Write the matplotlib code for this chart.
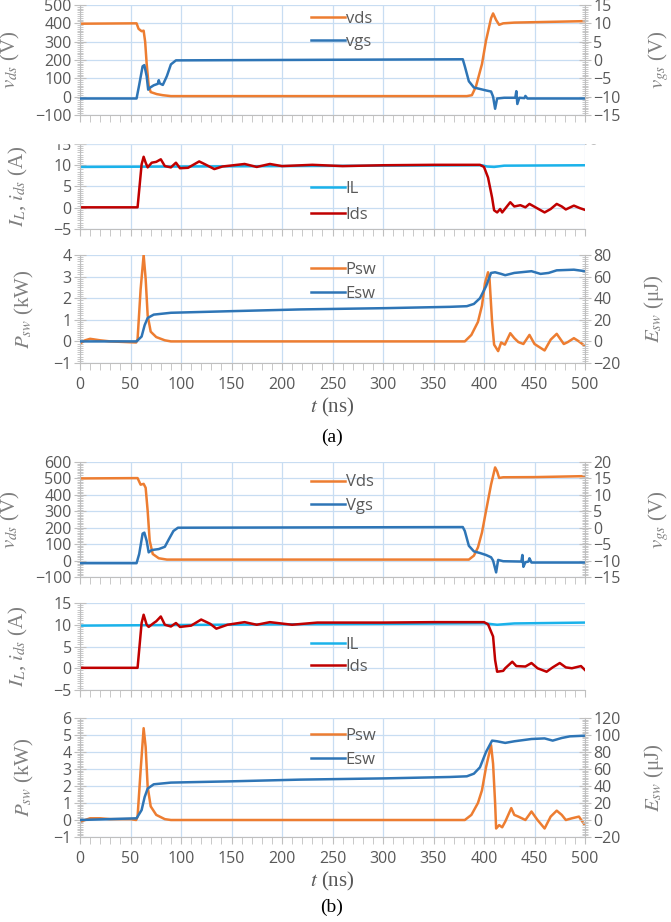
import matplotlib
matplotlib.use('Agg')

import numpy as np
import matplotlib.pyplot as plt
from matplotlib.ticker import MultipleLocator, AutoMinorLocator
from matplotlib.patches import Rectangle

# ---- data (t in ns) ----
# (a)
a_vds_t = [0, 56, 58, 61, 63, 64.5, 66, 68, 70, 76, 82, 90, 383, 388, 392, 398, 402, 407, 409, 412, 415, 419, 430, 500]
a_vds = [398, 400, 370, 357, 360, 300, 180, 60, 25, 14, 8, 3, 3, 8, 55, 178, 306, 428, 454, 418, 392, 400, 404, 412]
a_vgs_t = [0, 56, 58.6, 62, 63.7, 66, 67.5, 69, 73, 77, 78, 79, 82, 86, 90, 95, 379, 381, 385, 390, 396, 402,
           407, 409, 411, 413, 420, 431, 432, 433, 435, 440, 441, 443, 500]
a_vgs = [-10.5, -10.5, -6.8, -1.7, -1.4, -4.4, -8.1, -7.6, -6.9, -6.5, -5.5, -6.4, -6.8, -4.4, -1.2, -0.1, 0.2, -1.7,
         -5.8, -7.5, -7.9, -8.3, -8.6, -10, -13.3, -10.5, -10.3, -10.3, -8.5, -12, -10.3, -10.4, -9.8, -10.5, -10.5]
a_il_t = [0, 100, 200, 300, 398, 403, 410, 420, 500]
a_il = [9.6, 9.7, 9.8, 9.9, 10.0, 9.7, 9.6, 9.9, 10.0]
a_ids_t = [0, 57, 61, 63, 65, 67, 71, 75.5, 80, 84, 90, 95, 99, 107, 118, 124, 133, 141, 163, 175, 188, 200, 230,
           260, 300, 350, 396, 400, 404, 408, 410, 413, 416, 418, 426, 430, 436, 441, 445, 451, 460, 466, 472, 477,
           481, 489, 495, 500]
a_ids = [0.1, 0.1, 10.2, 12.0, 10.6, 9.5, 10.6, 10.8, 11.4, 9.8, 9.5, 10.6, 9.3, 9.4, 10.9, 10.2, 9.1, 9.7, 10.3,
         9.6, 10.3, 9.8, 10.1, 9.8, 10.0, 10.1, 10.1, 9.6, 7.1, 2.4, -0.6, -1.1, -0.3, -1.1, 1.3, 0.3, 0.6, 0.1, 0.9,
         0.1, -1.1, -0.3, 0.9, 0.3, -0.4, 0.5, -0.1, -0.5]
a_psw_t = [0, 5, 10, 20, 30, 55.6, 57, 60, 63, 65, 67, 70, 75.5, 84, 90, 381, 387.5, 394, 398, 401, 404, 405.5, 408,
           410, 412, 414, 417, 420.6, 426, 430, 434, 439, 445, 450, 456, 460, 466, 472, 479, 483, 489, 494, 499]
a_psw = [-0.1, 0.05, 0.12, 0.05, 0.0, -0.05, 0.1, 2.4, 4.0, 2.9, 1.2, 0.45, 0.2, 0.05, 0.0, 0.0, 0.3, 0.9, 1.66, 2.7,
         3.2, 2.87, 0.9, -0.15, -0.3, -0.45, -0.05, -0.15, 0.38, 0.15, -0.03, -0.12, 0.3, -0.12, -0.3, -0.42, 0.08,
         0.35, -0.12, -0.03, 0.15, 0.0, -0.18]
a_esw_t = [0, 56, 61, 64, 67, 73, 90, 150, 218, 303, 366, 383, 390, 396, 402, 407, 411, 417, 421, 430, 447, 456, 464,
           472, 489, 500]
a_esw = [0, 0, 4.5, 15, 21.7, 24.8, 26.5, 28, 29.6, 30.8, 32, 32.6, 34.7, 40, 51, 63.4, 64, 62.5, 61.3, 63.4, 65,
         62.5, 63.4, 65.8, 66.4, 65]

# (b)
b_vds_t = [0, 57, 60, 63, 65, 67, 69, 72, 78, 86, 385, 390, 394, 398, 402, 407, 411, 413, 415, 419, 450, 500]
b_vds = [500, 502, 462, 467, 443, 302, 121, 40, 14, 6, 6, 30, 80, 171, 302, 463, 567, 543, 503, 507, 508, 514]
b_vgs_t = [0, 56, 58.6, 62, 63.7, 66, 68, 71, 78, 84, 88, 92.5, 97, 379, 381, 385, 390, 396, 402, 407, 409, 412, 414,
           419, 437, 438, 439, 441, 444, 445, 447, 500]
b_vgs = [-10.8, -10.8, -8, -1.8, -1.5, -4, -7.5, -6.8, -6.5, -5.8, -3.5, -1, 0, 0.2, -1, -5.5, -7.2, -7.7, -8.3, -9,
         -10, -13.6, -9.8, -10.2, -10.3, -8.3, -11.9, -10.5, -10.3, -9.3, -10.6, -10.6]
b_il_t = [0, 100, 200, 300, 400, 405, 413, 430, 500]
b_il = [9.8, 9.95, 10.1, 10.2, 10.35, 10.2, 10.0, 10.3, 10.5]
b_ids_t = [0, 57, 61, 63, 66, 68, 73, 75.5, 80, 84, 90, 95, 99, 110, 120, 129, 135, 146, 163, 175, 188, 210, 235, 300,
           350, 400, 404, 409, 411, 413, 419, 421, 428, 432, 441, 447, 453, 462, 468, 475, 481, 487, 496, 500]
b_ids = [0.1, 0.1, 10.4, 12.3, 10.0, 9.5, 10.4, 10.8, 11.9, 10.0, 9.6, 10.4, 9.5, 9.8, 11.2, 10.2, 9.1, 10.0, 10.6,
         10.0, 10.6, 10.0, 10.5, 10.5, 10.6, 10.6, 10.1, 7.3, 1.9, -0.8, -0.6, 0.0, 1.5, 0.5, 0.4, 1.2, 0.0, -0.8,
         0.2, 1.2, 0.2, 0.0, 0.5, -0.4]
b_psw_t = [0, 10, 20, 30, 50, 55.6, 57, 60, 63, 65, 67, 70, 75.5, 84, 90, 381, 387.5, 394, 398, 402, 407, 409, 411,
           412, 415, 418, 421, 427, 430, 434, 441, 447, 453, 460, 466, 472, 477, 481, 487, 494, 499]
b_psw = [-0.1, 0.1, 0.1, 0.05, 0.05, 0.0, 0.2, 2.9, 5.4, 4.3, 1.95, 0.8, 0.3, 0.05, 0.0, 0.0, 0.3, 1.0, 1.75, 3.1,
         4.4, 3.3, 1.0, -0.5, -0.3, -0.43, -0.1, 0.7, 0.3, 0.2, 0.0, 0.5, 0.0, -0.5, 0.2, 0.55, 0.3, 0.0, 0.1, 0.2,
         -0.23]
b_esw_t = [0, 56, 61, 64, 67, 73, 90, 150, 218, 303, 366, 383, 390, 396, 402, 408, 413, 421, 430, 447, 460, 468, 477,
           485, 500]
b_esw = [0, 2, 11.7, 27, 37, 42, 44, 45.5, 47.5, 49, 50.6, 51.4, 54.5, 62, 80, 93.4, 92.6, 90.7, 92.6, 95.3, 96,
         93.4, 96.5, 98.4, 99.2]

ORANGE = '#ed7d31'
BLUE = '#2e75b6'
CYAN = '#1ab2ea'
RED = '#c00000'
GRID = '#c8ddf2'
AXC = '#bfbfbf'
TXT = '#595959'

plt.rcParams['mathtext.fontset'] = 'stix'
plt.rcParams['font.family'] = 'Open Sans'

W, H = 671, 922
fig = plt.figure(figsize=(W / 100, H / 100), dpi=100)


def add_axes(top, bottom, left=80, right=585):
    return fig.add_axes([left / W, 1 - bottom / H, (right - left) / W, (bottom - top) / H])


def style(ax, ylim, ystep, xlabels=False):
    ax.set_xlim(0, 500)
    ax.set_ylim(*ylim)
    ax.set_xticks(range(0, 501, 50))
    ax.xaxis.set_minor_locator(MultipleLocator(10))
    ax.set_yticks(np.arange(ylim[0], ylim[1] + ystep / 2, ystep))
    ax.yaxis.set_minor_locator(AutoMinorLocator(10))
    ax.grid(True, which='major', color=GRID, lw=0.9)
    ax.set_axisbelow(True)
    for s in ['top', 'right']:
        ax.spines[s].set_visible(False)
    for s in ['left', 'bottom']:
        ax.spines[s].set_color(AXC)
    ax.tick_params(axis='y', which='major', direction='inout', length=8, color=AXC, labelsize=11.5,
                   labelcolor=TXT, pad=2)
    ax.tick_params(axis='y', which='minor', direction='inout', length=5, color=AXC)
    ax.tick_params(axis='x', which='both', direction='out', length=5, color=AXC, labelsize=11.5,
                   labelcolor=TXT, labelbottom=xlabels, pad=5)


def style_right(ax2, ylim, ystep):
    ax2.set_ylim(*ylim)
    ax2.set_yticks(np.arange(ylim[0], ylim[1] + ystep / 2, ystep))
    ax2.yaxis.set_minor_locator(AutoMinorLocator(10))
    for s in ['top', 'left', 'bottom']:
        ax2.spines[s].set_visible(False)
    ax2.spines['right'].set_color(AXC)
    ax2.tick_params(axis='y', which='major', direction='inout', length=8, color=AXC, labelsize=11.5,
                    labelcolor=TXT, pad=2)
    ax2.tick_params(axis='y', which='minor', direction='inout', length=5, color=AXC)


def ylab(ax, text, xpx):
    ax.set_ylabel(text, fontsize=15, color='#808080', family='Liberation Serif', rotation=90)
    ax.yaxis.set_label_coords((xpx - 80) / 505, 0.5)


def ylab_right(ax2, text, xpx):
    ax2.set_ylabel(text, fontsize=15, color='#808080', family='Liberation Serif', rotation=90)
    ax2.yaxis.set_label_coords((xpx - 80) / 505, 0.5)


def legend(ax, handles, ymid, spacing=0.45):
    ax.legend(handles=handles, loc='center left', bbox_to_anchor=(0.445, ymid), frameon=False,
              fontsize=12, handlelength=2.0, handletextpad=0.05, labelspacing=spacing,
              labelcolor=TXT, borderaxespad=0)


def voltage_panel(top, bottom, vt, vds, gt, vgs, ylim, ylim2, names, ymid):
    ax = add_axes(top, bottom)
    style(ax, ylim, 100)
    l1, = ax.plot(vt, vds, color=ORANGE, lw=1.8, label=names[0])
    ylab(ax, r'$v_{ds}$ (V)', 22)
    ax2 = ax.twinx()
    style_right(ax2, ylim2, 5)
    l2, = ax2.plot(gt, vgs, color=BLUE, lw=1.8, label=names[1])
    ylab_right(ax2, r'$v_{gs}$ (V)', 646)
    legend(ax2, [l1, l2], ymid)
    return ax


def current_panel(top, bottom, it, il, dt, ids, ymid, spacing):
    ax = add_axes(top, bottom)
    style(ax, (-5, 15), 5)
    l1, = ax.plot(it, il, color=CYAN, lw=1.8, label='IL')
    l2, = ax.plot(dt, ids, color=RED, lw=1.8, label='Ids')
    ylab(ax, r'$I_L$, $i_{ds}$ (A)', 30)
    legend(ax, [l1, l2], ymid, spacing)
    return ax


def power_panel(top, bottom, pt, psw, et, esw, ylim, ylim2, ymid):
    ax = add_axes(top, bottom)
    style(ax, ylim, 1, xlabels=True)
    l1, = ax.plot(pt, psw, color=ORANGE, lw=1.8, label='Psw')
    ylab(ax, r'$P_{sw}$ (kW)', 36)
    ax2 = ax.twinx()
    style_right(ax2, ylim2, 20)
    l2, = ax2.plot(et, esw, color=BLUE, lw=1.8, label='Esw')
    ylab_right(ax2, r'$E_{sw}$ (μJ)', 642)
    legend(ax2, [l1, l2], ymid)
    ax.set_xlabel(r'$t$ (ns)', fontsize=15, color=TXT, family='Liberation Serif', labelpad=2)
    return ax


# ---- (a) ----
ax_a1 = voltage_panel(5, 115, a_vds_t, a_vds, a_vgs_t, a_vgs, (-100, 500), (-15, 15), ['vds', 'vgs'], 0.77)
# tick labels of the first chart peek out from under the second one
ax_a1.tick_params(axis='x', labelbottom=True, labelcolor='#b0b0b0', pad=8)
fig.add_artist(Rectangle((0, 1 - 143 / H), 1, 12 / H, transform=fig.transFigure, color='white', zorder=5))
current_panel(144, 229, a_il_t, a_il, a_ids_t, a_ids, 0.32, 0.6)
power_panel(255, 363, a_psw_t, a_psw, a_esw_t, a_esw, (-1, 4), (-20, 80), 0.75)
fig.text(332 / W, 1 - 437 / H, '(a)', ha='center', va='center', fontsize=14, family='Liberation Serif')

# ---- (b) ----
voltage_panel(462, 577, b_vds_t, b_vds, b_vgs_t, b_vgs, (-100, 600), (-15, 20), ['Vds', 'Vgs'], 0.72)
current_panel(603, 690, b_il_t, b_il, b_ids_t, b_ids, 0.39, 0.35)
power_panel(718, 837, b_psw_t, b_psw, b_esw_t, b_esw, (-1, 6), (-20, 120), 0.75)
fig.text(332 / W, 1 - 907 / H, '(b)', ha='center', va='center', fontsize=14, family='Liberation Serif')

fig.savefig('out.png', dpi=100, facecolor='white')
